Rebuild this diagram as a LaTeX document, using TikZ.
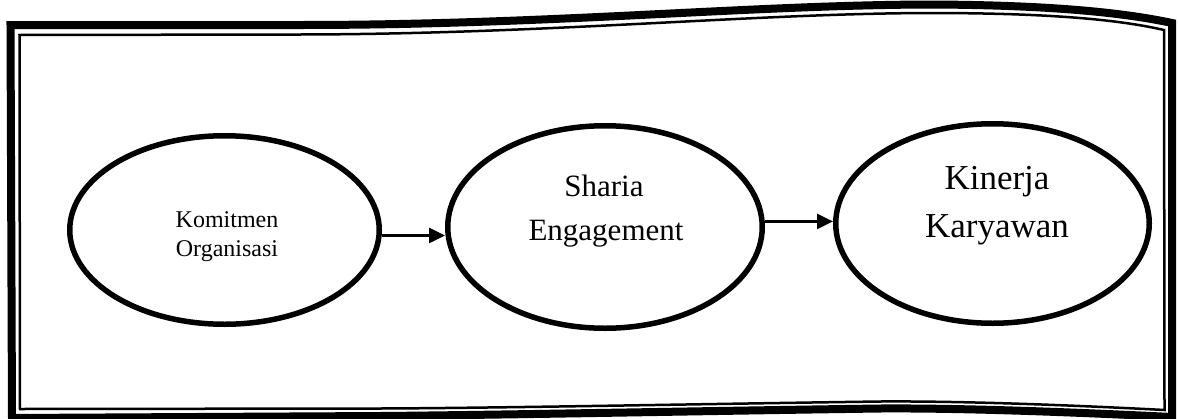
\documentclass[tikz,border=0pt]{standalone}
\usepackage{fontspec}
\setmainfont{Liberation Serif}
\usetikzlibrary{shapes.geometric,arrows.meta}
\begin{document}
\begin{tikzpicture}[x=1pt,y=-1pt,
  construct/.style={draw=black, ellipse, line width=5.5pt, inner sep=0pt},
  link/.style={line width=2.6pt, -{Triangle[length=16pt,width=15pt]}},
  frameouter/.style={line width=8pt, line join=miter},
  frameinner/.style={line width=2.5pt, line join=miter},
  lbl/.style={anchor=base, inner sep=0pt}
]
\useasboundingbox (0,0) rectangle (1178,418);

% double border, slightly warped
\draw[frameouter] (10.5,25) -- (300,25)
  .. controls (550,25) and (750,5) .. (930,4.5)
  .. controls (1060,5) and (1130,14) .. (1172,23)
  -- (1172,417)
  .. controls (1050,411) and (950,408) .. (880,408.5)
  .. controls (700,411) and (500,415) .. (380,416)
  -- (12,418) -- cycle;
\draw[frameinner] (19.5,35) -- (300,34.5)
  .. controls (550,34) and (750,13.5) .. (930,13)
  .. controls (1060,13) and (1125,21) .. (1164,30)
  -- (1164.5,410)
  .. controls (1050,404) and (950,401) .. (880,401.5)
  .. controls (700,404) and (500,408) .. (380,408.5)
  -- (20,409) -- cycle;

% constructs
\node[construct, minimum width=309.5pt, minimum height=188.5pt] (e1) at (224.5,230) {};
\node[construct, minimum width=314.5pt, minimum height=202.5pt] (e2) at (605,227) {};
\node[construct, minimum width=313.5pt, minimum height=199.5pt] (e3) at (992.5,223.5) {};

% labels
\node[lbl, font=\fontsize{24}{29}\selectfont] (t1a) at (227,227) {Komitmen};
\node[lbl, font=\fontsize{24}{29}\selectfont] (t1b) at (227,256) {Organisasi};
\node[lbl, font=\fontsize{31}{40}\selectfont] (t2a) at (604,196) {Sharia};
\node[lbl, font=\fontsize{31}{40}\selectfont] (t2b) at (606,240) {Engagement};
\node[lbl, font=\fontsize{35}{46}\selectfont] (t3a) at (997,189) {Kinerja};
\node[lbl, font=\fontsize{35}{46}\selectfont] (t3b) at (997,237) {Karyawan};

% paths
\draw[link] (e1.358.2) -- (e1.358.2 -| e2.west);
\draw[link] (e2.2.1) -- (e2.2.1 -| e3.west);
\end{tikzpicture}
\end{document}
